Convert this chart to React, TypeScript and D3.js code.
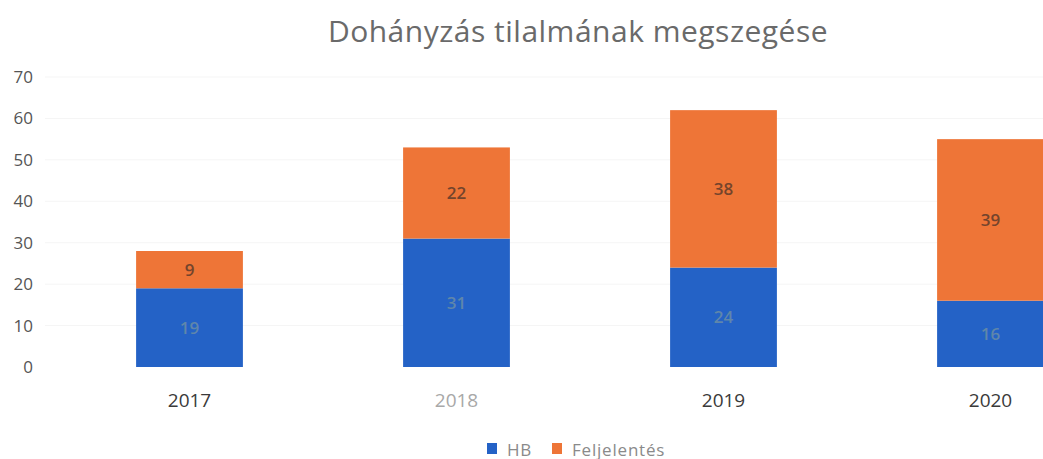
import { useEffect, useRef } from 'react'
import * as d3 from 'd3'

const years = ['2017', '2018', '2019', '2020']
const hb = [19, 31, 24, 16]
const feljelentes = [9, 22, 38, 39]
const yTicks = [0, 10, 20, 30, 40, 50, 60, 70]
const seriesNames = ['HB', 'Feljelentés']

const width = 1043
const height = 459

export default function App() {
    const svgRef = useRef<SVGSVGElement>(null)

    useEffect(() => {
        if (!svgRef.current) return
        document.body.style.margin = '0'

        const svg = d3.select(svgRef.current)
        svg.selectAll('*').remove()

        const font = '"Open Sans", "DejaVu Sans", sans-serif'

        const x = d3.scaleBand<string>()
            .domain(years)
            .range([56, 1124])
            .paddingInner(0.6)
            .paddingOuter(0.3)

        const y = d3.scaleLinear()
            .domain([0, 70])
            .range([367, 77])

        // Title
        svg.append('text')
            .attr('x', 578)
            .attr('y', 42)
            .attr('text-anchor', 'middle')
            .style('font-family', font)
            .style('font-size', '30px')
            .style('letter-spacing', '0.5px')
            .style('fill', '#6a6a6a')
            .text('Dohányzás tilalmának megszegése')

        // Faint gridlines
        svg.append('g')
            .selectAll('line')
            .data(yTicks.slice(1))
            .enter()
            .append('line')
            .attr('x1', 45)
            .attr('x2', width)
            .attr('y1', d => y(d))
            .attr('y2', d => y(d))
            .attr('stroke', '#f5f5f5')
            .attr('stroke-width', 1)

        // Y tick labels
        svg.append('g')
            .selectAll('text')
            .data(yTicks)
            .enter()
            .append('text')
            .attr('x', 33)
            .attr('y', d => y(d))
            .attr('dy', '0.35em')
            .attr('text-anchor', 'end')
            .style('font-family', font)
            .style('font-size', '17px')
            .style('fill', '#555')
            .text(d => d)

        // Stacked bars
        const rows = years.map((year, i) => ({ year, HB: hb[i], Feljelentés: feljelentes[i] }))
        const stack = d3.stack<any>().keys(seriesNames)(rows)
        const colors = ['#2462c6', '#ee7537']
        const labelColors = ['#5f86ab', '#74442c']

        stack.forEach((layer, si) => {
            const g = svg.append('g')
            g.selectAll('rect')
                .data(layer)
                .enter()
                .append('rect')
                .attr('x', d => x(d.data.year)!)
                .attr('width', x.bandwidth())
                .attr('y', d => y(d[1]))
                .attr('height', d => y(d[0]) - y(d[1]))
                .attr('fill', colors[si])

            g.selectAll('text')
                .data(layer)
                .enter()
                .append('text')
                .attr('x', d => x(d.data.year)! + x.bandwidth() / 2)
                .attr('y', d => y((d[0] + d[1]) / 2))
                .attr('dy', '0.35em')
                .attr('text-anchor', 'middle')
                .style('font-family', font)
                .style('font-size', '17px')
                .style('font-weight', '600')
                .style('fill', labelColors[si])
                .text(d => d[1] - d[0])
        })

        // X labels
        svg.append('g')
            .selectAll('text')
            .data(years)
            .enter()
            .append('text')
            .attr('x', d => x(d)! + x.bandwidth() / 2)
            .attr('y', 407)
            .attr('text-anchor', 'middle')
            .style('font-family', font)
            .style('font-size', '19px')
            .style('fill', d => (d === '2018' ? '#a8a8a8' : '#3a3a3a'))
            .text(d => d)

        // Legend
        const legendX = [487, 552]
        const legend = svg.append('g')
            .selectAll('g')
            .data(seriesNames)
            .enter()
            .append('g')
            .attr('transform', (d, i) => `translate(${legendX[i]}, 443)`)

        legend.append('rect')
            .attr('width', 10)
            .attr('height', 11)
            .attr('fill', (d, i) => colors[i])

        legend.append('text')
            .attr('x', 20)
            .attr('y', 12.5)
            .style('font-family', font)
            .style('font-size', '17px')
            .style('letter-spacing', '0.8px')
            .style('fill', '#8a8a8a')
            .text(d => d)
    }, [])

    return (
        <svg ref={svgRef} width={width} height={height} style={{ display: 'block', overflow: 'hidden', background: '#fff' }}></svg>
    )
}
